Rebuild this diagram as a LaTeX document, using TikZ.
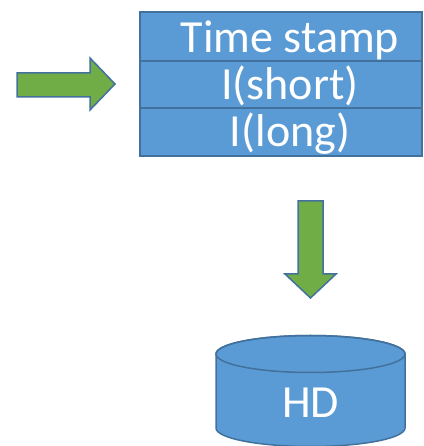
\documentclass[tikz,border=0pt]{standalone}
\usepackage{fontspec}
\setmainfont{Carlito}
\definecolor{boxblue}{HTML}{5B9BD5}
\definecolor{edgeblue}{HTML}{41719C}
\definecolor{arrowgreen}{HTML}{70AD47}
\tikzset{
  rowbox/.style={fill=boxblue, draw=edgeblue, line width=1.8pt},
  fatarrow/.style={fill=arrowgreen, draw=edgeblue, line width=1.5pt, line join=miter},
  whitetext/.style={text=white, font=\fontsize{46}{46}\selectfont, inner sep=0pt, anchor=base}
}
\begin{document}
\begin{tikzpicture}[x=1pt,y=1pt]
\useasboundingbox (0,0) rectangle (423,446);
% table rows
\draw[rowbox] (140,385) rectangle (422,434);
\draw[rowbox] (140,338) rectangle (422,385);
\draw[rowbox] (140,290) rectangle (422,338);
\node[whitetext] (ts) at (290,393) {Time stamp};
\node[whitetext] (ishort) at (290,346) {I(short)};
\node[whitetext] (ilong) at (290,299) {I(long)};
% right arrow
\draw[fatarrow] (17,373) -- (90,373) -- (90,388) -- (115,362) -- (90,336) -- (90,349) -- (17,349) -- cycle;
% down arrow
\draw[fatarrow] (298,245) -- (323,245) -- (323,172) -- (336,172) -- (310.5,148) -- (285,172) -- (298,172) -- cycle;
% cylinder
\draw[rowbox, line width=1.5pt] (216,92) -- (216,18) arc[start angle=180, end angle=360, x radius=94.5, y radius=18.5] -- (405,92) arc[start angle=0, end angle=180, x radius=94.5, y radius=18.5] -- cycle;
\draw[edgeblue, line width=1.5pt] (310.5,92) ellipse[x radius=94.5, y radius=18.5];
\node[whitetext] (hd) at (310.5,28) {HD};
\end{tikzpicture}
\end{document}
